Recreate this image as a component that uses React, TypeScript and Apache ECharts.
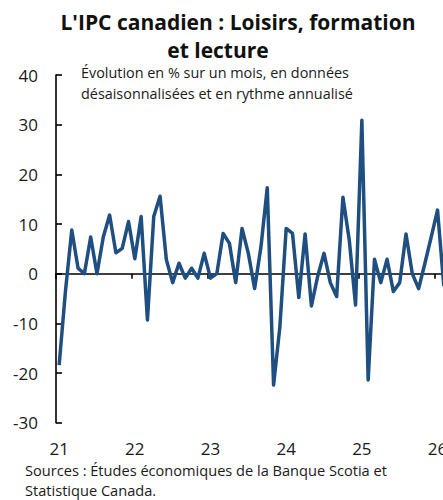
import React, { useEffect, useRef } from "react";
import * as echarts from "echarts";

const TITLE_LINES = ["L'IPC canadien : Loisirs, formation", "et lecture"];
const SUBTITLE_LINES = [
  "Évolution en % sur un mois, en données",
  "désaisonnalisées et en rythme annualisé",
];
const SOURCE_LINES = [
  "Sources : Études économiques de la Banque Scotia et",
  "Statistique Canada.",
];

const YEARS = ["21", "22", "23", "24", "25", "26"];
const MONTHS = ["01", "02", "03", "04", "05", "06", "07", "08", "09", "10", "11", "12"];

// Monthly % change, s.a., annualized — Jan 2021 to Feb 2026
const VALUES = [
  -18.4, -3.5, 8.8, 1.1, 0.0, 7.4, 0.0, 7.4, 11.8, 4.2, 5.1, 10.5,
  3.0, 11.5, -9.3, 11.5, 15.6, 2.8, -1.8, 2.1, -0.9, 1.1, -0.9, 4.1,
  -0.9, 0.0, 8.1, 6.1, -1.8, 9.1, 4.1, -3.0, 5.4, 17.3, -22.4, -10.7,
  9.1, 8.1, -4.8, 8.0, -6.5, -0.5, 4.1, -1.8, -4.6, 15.4, 6.8, -6.3,
  30.9, -21.4, 2.9, -1.8, 2.9, -3.6, -1.8, 8.0, 0.0, -3.0, 2.1, 7.4,
  12.8, -2.5,
];

const CATEGORIES: string[] = [];
for (const y of YEARS) {
  for (const m of MONTHS) {
    if (CATEGORIES.length < VALUES.length) CATEGORIES.push(`${y}-${m}`);
  }
}

const FONT = "'Open Sans', 'Noto Sans', sans-serif";
const LINE_COLOR = "#1f4e80";

export default function App() {
  const ref = useRef<HTMLDivElement>(null);

  useEffect(() => {
    document.body.style.margin = "0";
    if (!ref.current) return;
    const chart = echarts.init(ref.current, undefined, { renderer: "svg" });
    const isJan = (i: number) => i % 12 === 0;
    const txt = (text: string, x: number, y: number, size: number, align: string, bold = false) => ({
      type: "text",
      x,
      y,
      style: {
        text,
        fontFamily: FONT,
        fontWeight: bold ? "bold" : "normal",
        fontSize: size,
        fill: bold ? "#111" : "#1a1a1a",
        textAlign: align,
        textVerticalAlign: "middle",
      },
    });
    chart.setOption({
      animation: false,
      backgroundColor: "#ffffff",
      textStyle: { fontFamily: FONT },
      grid: {
        left: 56,
        top: 75,
        right: -4,
        bottom: 77.3,
        containLabel: false,
        outerBoundsMode: "none",
      },
      xAxis: [
        {
          type: "category",
          data: CATEGORIES,
          boundaryGap: true,
          position: "bottom",
          axisLine: { show: false, onZero: false },
          axisTick: { show: false },
          axisLabel: {
            interval: (i: number) => isJan(i),
            formatter: (v: string) => v.split("-")[0],
            fontFamily: FONT,
            fontSize: 17,
            color: "#1a1a1a",
            margin: 17,
          },
          splitLine: { show: false },
        },
        {
          type: "category",
          data: CATEGORIES,
          boundaryGap: true,
          position: "top",
          axisLine: { show: true, onZero: true, lineStyle: { color: "#000", width: 1.6 } },
          axisTick: {
            show: true,
            inside: true,
            length: 5,
            interval: (i: number) => isJan(i),
            lineStyle: { color: "#000", width: 1.6 },
          },
          axisLabel: { show: false },
          splitLine: { show: false },
        },
      ],
      yAxis: {
        type: "value",
        min: -30,
        max: 40,
        interval: 10,
        axisLine: { show: true, onZero: false, lineStyle: { color: "#000", width: 1.6 } },
        axisTick: { show: true, inside: true, length: 6, lineStyle: { color: "#000", width: 1.6 } },
        axisLabel: {
          fontFamily: FONT,
          fontSize: 17,
          color: "#1a1a1a",
          margin: 18,
        },
        splitLine: { show: false },
      },
      series: [
        {
          type: "line",
          xAxisIndex: 0,
          data: VALUES,
          symbol: "none",
          lineStyle: { color: LINE_COLOR, width: 3.5, join: "round" },
          z: 5,
        },
      ],
      graphic: [
        txt(TITLE_LINES[0], 238, 22, 21, "center", true),
        txt(TITLE_LINES[1], 218, 50, 21, "center", true),
        txt(SUBTITLE_LINES[0], 81, 72, 14.4, "left"),
        txt(SUBTITLE_LINES[1], 81, 93, 14.4, "left"),
        txt(SOURCE_LINES[0], 25, 470, 14.6, "left"),
        txt(SOURCE_LINES[1], 25, 490, 14.6, "left"),
      ],
    });
    return () => chart.dispose();
  }, []);

  return <div ref={ref} style={{ width: 443, height: 500 }} />;
}
